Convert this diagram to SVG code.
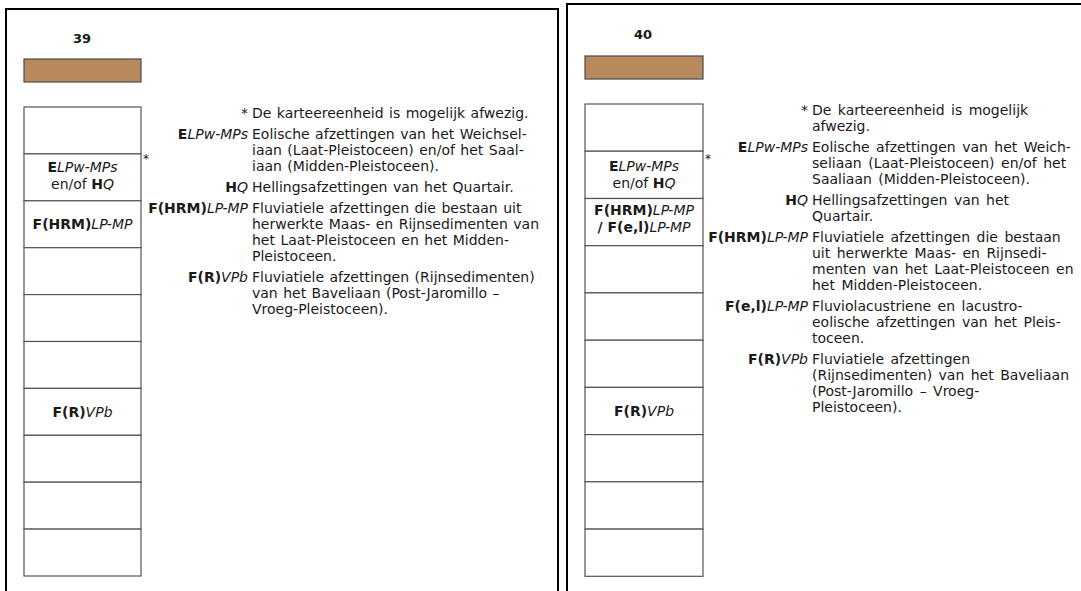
<svg xmlns="http://www.w3.org/2000/svg" width="1081" height="591" viewBox="0 0 1081 591">
<style>
.t{font-family:"DejaVu Sans",Verdana,sans-serif;font-size:14px;fill:#1a1a1a}
.b{font-weight:bold}
.i{font-style:italic}
.e{text-anchor:end}
.m{text-anchor:middle}
.wl{word-spacing:1px}
.wr{word-spacing:2px}
.num{font-family:"DejaVu Sans",Verdana,sans-serif;font-size:13px;font-weight:bold;fill:#1a1a1a;text-anchor:middle}
.ast{font-family:"DejaVu Sans",Verdana,sans-serif;font-size:12px;fill:#1a1a1a}
.cell{fill:#fff;stroke:#555;stroke-width:1.2}
.bar{fill:#B8895C;stroke:#4a4a4a;stroke-width:1.2}
.frame{fill:none;stroke:#000;stroke-width:2}
</style>
<rect x="0" y="0" width="1081" height="591" fill="#fff"/>
<g id="panel-39">
<path class="frame" d="M6,600 V9 H558 V600"/>
<text class="num" x="82" y="43">39</text>
<rect id="bar-39" class="bar" x="24" y="59" width="117" height="23"/>
<g id="col-39">
<rect id="c39-1" class="cell" x="24" y="107" width="117" height="46.9"/>
<g id="c39-2"><rect class="cell" x="24" y="153.9" width="117" height="46.9"/>
<text class="t m" x="82.5" y="172"><tspan class="b">E</tspan><tspan class="i">LPw-MPs</tspan></text>
<text class="t m" x="82.5" y="189">en/of <tspan class="b">H</tspan><tspan class="i">Q</tspan></text></g>
<g id="c39-3"><rect class="cell" x="24" y="200.8" width="117" height="46.9"/>
<text class="t m" x="82.5" y="229"><tspan class="b">F(HRM)</tspan><tspan class="i">LP-MP</tspan></text></g>
<rect id="c39-4" class="cell" x="24" y="247.7" width="117" height="46.9"/>
<rect id="c39-5" class="cell" x="24" y="294.6" width="117" height="46.9"/>
<rect id="c39-6" class="cell" x="24" y="341.5" width="117" height="46.9"/>
<g id="c39-7"><rect class="cell" x="24" y="388.4" width="117" height="46.9"/>
<text class="t m" x="82.5" y="417"><tspan class="b">F(R)</tspan><tspan class="i">VPb</tspan></text></g>
<rect id="c39-8" class="cell" x="24" y="435.3" width="117" height="46.9"/>
<rect id="c39-9" class="cell" x="24" y="482.2" width="117" height="46.9"/>
<rect id="c39-10" class="cell" x="24" y="529.1" width="117" height="46.9"/>
</g>
<text class="ast" x="143" y="163">*</text>
<g id="legend-39">
<text class="t e" x="248" y="118">*</text>
<text class="t wl" x="252" y="118">De karteereenheid is mogelijk afwezig.</text>
<text class="t e" x="248" y="139"><tspan class="b">E</tspan><tspan class="i">LPw-MPs</tspan></text>
<text class="t wl" x="252" y="139">Eolische afzettingen van het Weichsel-</text>
<text class="t wl" x="252" y="155">iaan (Laat-Pleistoceen) en/of het Saal-</text>
<text class="t wl" x="252" y="171">iaan (Midden-Pleistoceen).</text>
<text class="t e" x="248" y="192"><tspan class="b">H</tspan><tspan class="i">Q</tspan></text>
<text class="t wl" x="252" y="192">Hellingsafzettingen van het Quartair.</text>
<text class="t e" x="248" y="213"><tspan class="b">F(HRM)</tspan><tspan class="i">LP-MP</tspan></text>
<text class="t wl" x="252" y="213">Fluviatiele afzettingen die bestaan uit</text>
<text class="t wl" x="252" y="229">herwerkte Maas- en Rijnsedimenten van</text>
<text class="t wl" x="252" y="245">het Laat-Pleistoceen en het Midden-</text>
<text class="t wl" x="252" y="261">Pleistoceen.</text>
<text class="t e" x="248" y="282"><tspan class="b">F(R)</tspan><tspan class="i">VPb</tspan></text>
<text class="t wl" x="252" y="282">Fluviatiele afzettingen (Rijnsedimenten)</text>
<text class="t wl" x="252" y="298">van het Baveliaan (Post-Jaromillo –</text>
<text class="t wl" x="252" y="314">Vroeg-Pleistoceen).</text>
</g>
</g>
<g id="panel-40">
<path class="frame" d="M567,600 V4 H1090"/>
<text class="num" x="643" y="39">40</text>
<rect id="bar-40" class="bar" x="585" y="56" width="118" height="23"/>
<g id="col-40">
<rect id="c40-1" class="cell" x="585" y="104" width="118" height="47.2"/>
<g id="c40-2"><rect class="cell" x="585" y="151.2" width="118" height="47.3"/>
<text class="t m" x="644" y="171"><tspan class="b">E</tspan><tspan class="i">LPw-MPs</tspan></text>
<text class="t m" x="644" y="188">en/of <tspan class="b">H</tspan><tspan class="i">Q</tspan></text></g>
<g id="c40-3"><rect class="cell" x="585" y="198.5" width="118" height="47.2"/>
<text class="t m" x="644" y="215"><tspan class="b">F(HRM)</tspan><tspan class="i">LP-MP</tspan></text>
<text class="t m" x="644" y="232"><tspan class="b">/ F(e,l)</tspan><tspan class="i">LP-MP</tspan></text></g>
<rect id="c40-4" class="cell" x="585" y="245.7" width="118" height="47.2"/>
<rect id="c40-5" class="cell" x="585" y="292.9" width="118" height="47.3"/>
<rect id="c40-6" class="cell" x="585" y="340.2" width="118" height="47.2"/>
<g id="c40-7"><rect class="cell" x="585" y="387.4" width="118" height="47.2"/>
<text class="t m" x="644" y="416"><tspan class="b">F(R)</tspan><tspan class="i">VPb</tspan></text></g>
<rect id="c40-8" class="cell" x="585" y="434.6" width="118" height="47.2"/>
<rect id="c40-9" class="cell" x="585" y="481.8" width="118" height="47.3"/>
<rect id="c40-10" class="cell" x="585" y="529.1" width="118" height="47.2"/>
</g>
<text class="ast" x="705" y="163">*</text>
<g id="legend-40">
<text class="t e" x="808" y="115">*</text>
<text class="t wr" x="812" y="115">De karteereenheid is mogelijk</text>
<text class="t wr" x="812" y="131">afwezig.</text>
<text class="t e" x="808" y="152"><tspan class="b">E</tspan><tspan class="i">LPw-MPs</tspan></text>
<text class="t wr" x="812" y="152">Eolische afzettingen van het Weich-</text>
<text class="t wr" x="812" y="168">seliaan (Laat-Pleistoceen) en/of het</text>
<text class="t wr" x="812" y="184">Saaliaan (Midden-Pleistoceen).</text>
<text class="t e" x="808" y="205"><tspan class="b">H</tspan><tspan class="i">Q</tspan></text>
<text class="t wr" x="812" y="205">Hellingsafzettingen van het</text>
<text class="t wr" x="812" y="221">Quartair.</text>
<text class="t e" x="808" y="242"><tspan class="b">F(HRM)</tspan><tspan class="i">LP-MP</tspan></text>
<text class="t wr" x="812" y="242">Fluviatiele afzettingen die bestaan</text>
<text class="t wr" x="812" y="258">uit herwerkte Maas- en Rijnsedi-</text>
<text class="t wr" x="812" y="274">menten van het Laat-Pleistoceen en</text>
<text class="t wr" x="812" y="290">het Midden-Pleistoceen.</text>
<text class="t e" x="808" y="311"><tspan class="b">F(e,l)</tspan><tspan class="i">LP-MP</tspan></text>
<text class="t wr" x="812" y="311">Fluviolacustriene en lacustro-</text>
<text class="t wr" x="812" y="327">eolische afzettingen van het Pleis-</text>
<text class="t wr" x="812" y="343">toceen.</text>
<text class="t e" x="808" y="364"><tspan class="b">F(R)</tspan><tspan class="i">VPb</tspan></text>
<text class="t wr" x="812" y="364">Fluviatiele afzettingen</text>
<text class="t wr" x="812" y="380">(Rijnsedimenten) van het Baveliaan</text>
<text class="t wr" x="812" y="396">(Post-Jaromillo – Vroeg-</text>
<text class="t wr" x="812" y="412">Pleistoceen).</text>
</g>
</g>
</svg>
